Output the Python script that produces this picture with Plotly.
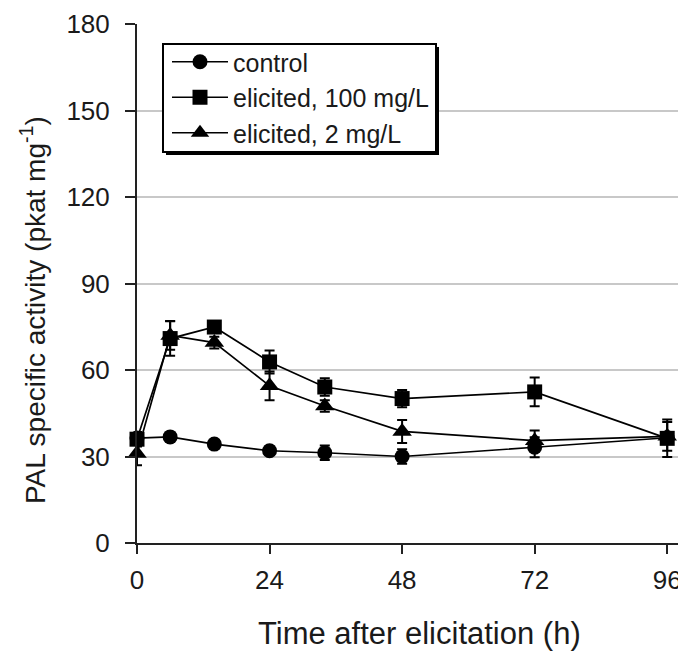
import plotly.graph_objects as go

hours = [0, 6, 14, 24, 34, 48, 72, 96]
control = [36.4, 36.8, 34.3, 32.0, 31.3, 30.0, 33.2, 36.5]
control_err = [1.5, 1.2, 1.2, 1.5, 2.5, 2.5, 3.5, 2.0]
elic100 = [36.0, 70.9, 74.9, 62.8, 54.1, 50.1, 52.4, 36.3]
elic100_err = [2.5, 6.0, 1.5, 4.0, 3.0, 3.0, 5.0, 6.5]
elic2 = [31.0, 72.0, 69.5, 54.5, 47.5, 38.7, 35.5, 37.0]
elic2_err = [4.0, 5.0, 2.0, 5.0, 2.0, 4.0, 3.5, 5.0]

series_names = ["control", "elicited, 100 mg/L", "elicited, 2 mg/L"]
y_ticks = [0, 30, 60, 90, 120, 150, 180]
x_ticks = [0, 24, 48, 72, 96]
x_title = "Time after elicitation (h)"
y_title = "PAL specific activity (pkat mg<sup>-1</sup>)"

FONT = "Liberation Sans, Arial, sans-serif"
# page is rendered with an 8px body margin -> figure is 8px smaller
W, H = 678, 645
ML, MT, MB, MR = 129, 16, 110, 0
PW, PH = W - ML - MR, H - MT - MB

def px(xf):
    return (xf - ML) / PW

def py(yf):
    return (H - MB - yf) / PH

fig = go.Figure()
specs = [
    (control, control_err, "circle", 15),
    (elic100, elic100_err, "square", 15),
    (elic2, elic2_err, "triangle-up", 17),
]
for name, (vals, errs, sym, size) in zip(series_names, specs):
    fig.add_trace(go.Scatter(
        x=hours, y=vals, name=name, mode="lines+markers",
        line=dict(color="black", width=1.7),
        marker=dict(symbol=sym, size=size, color="black"),
        error_y=dict(type="data", array=errs, visible=True, color="black",
                     thickness=2, width=5),
        cliponaxis=False,
    ))

fig.add_annotation(text=x_title, xref="paper", yref="paper",
                   x=px(411), y=py(625), xanchor="center", yanchor="middle",
                   showarrow=False, font=dict(size=31, family=FONT, color="#1a1a1a"))
fig.add_annotation(text=y_title, xref="paper", yref="paper",
                   x=px(25), y=py(302), xanchor="center", yanchor="middle",
                   textangle=-90, showarrow=False,
                   font=dict(size=28, family=FONT, color="#1a1a1a"))

# legend frame with drop shadow (figure pixel coords)
LB = dict(x0=155, y0=36, x1=428, y1=144)
fig.add_shape(type="rect", xref="paper", yref="paper", layer="above",
              x0=px(LB["x0"] + 3), x1=px(LB["x1"] + 3),
              y0=py(LB["y1"] + 3), y1=py(LB["y0"] + 3),
              fillcolor="black", line=dict(width=0))
fig.add_shape(type="rect", xref="paper", yref="paper", layer="above",
              x0=px(LB["x0"]), x1=px(LB["x1"]),
              y0=py(LB["y1"]), y1=py(LB["y0"]),
              fillcolor="white", line=dict(color="black", width=2))

fig.update_layout(
    width=W, height=H,
    margin=dict(l=ML, r=MR, t=MT, b=MB),
    paper_bgcolor="white", plot_bgcolor="white",
    font=dict(family=FONT, size=25, color="#1a1a1a"),
    showlegend=True,
    legend=dict(
        x=px(159), y=py(31), xanchor="left", yanchor="top",
        bgcolor="rgba(0,0,0,0)", borderwidth=0,
        font=dict(size=25, family=FONT, color="#1a1a1a"),
        tracegroupgap=0, itemwidth=56,
    ),
    xaxis=dict(
        range=[0, 99.4], tickvals=x_ticks, ticktext=[str(t) for t in x_ticks],
        showgrid=False, zeroline=False, automargin=False,
        showline=True, linecolor="#222", linewidth=2,
        ticks="outside", ticklen=9, tickwidth=2, tickcolor="#222",
        tickfont=dict(size=26), ticklabeloverflow="allow", ticklabelstandoff=4,
    ),
    yaxis=dict(
        range=[0, 180], tickvals=y_ticks, ticktext=[str(t) for t in y_ticks],
        showgrid=True, gridcolor="#c8c8c8", gridwidth=1.5,
        zeroline=False, automargin=False,
        showline=True, linecolor="#222", linewidth=2,
        ticks="outside", ticklen=10, tickwidth=2, tickcolor="#222",
        tickfont=dict(size=26), ticklabeloverflow="allow", ticklabelstandoff=10,
    ),
)

fig.write_html("out.html")
